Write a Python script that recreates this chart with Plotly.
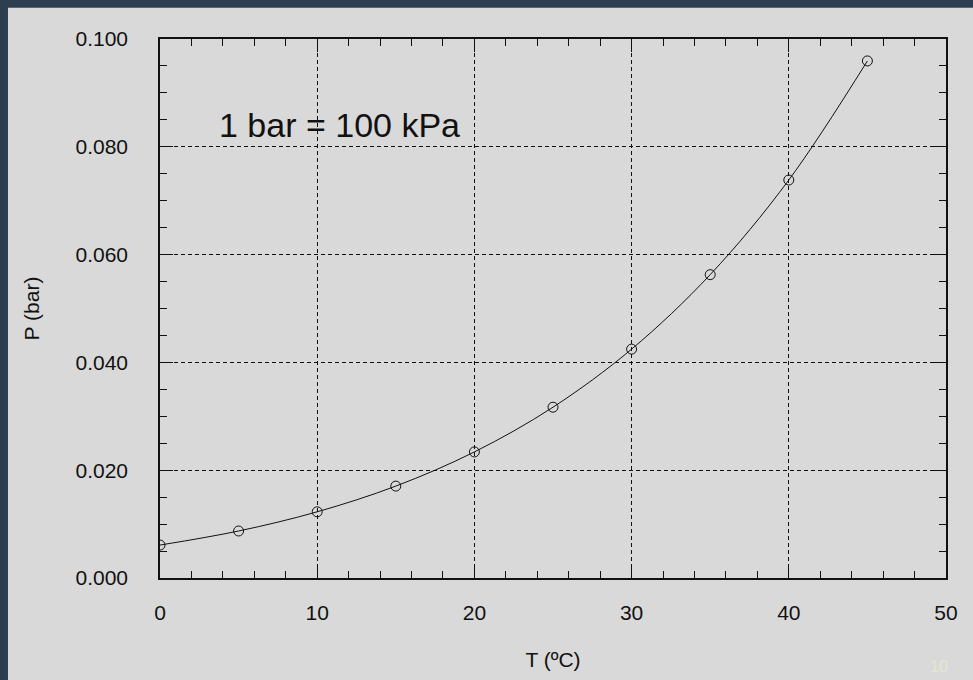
import plotly.graph_objects as go

# Tensione di vapore dell'acqua
T_C = [0, 5, 10, 15, 20, 25, 30, 35, 40, 45]
P_BAR = [0.00611, 0.00872, 0.01228, 0.01705, 0.02339, 0.03169, 0.04246, 0.05628, 0.07384, 0.09593]

X_TICKS = [0, 10, 20, 30, 40, 50]
Y_TICKS = [0.000, 0.020, 0.040, 0.060, 0.080, 0.100]

FONT = "Liberation Sans, Arial, sans-serif"
PANEL = "#d9d9d9"
DARK = "#2c3e4f"

fig = go.Figure()

fig.add_trace(
    go.Scatter(
        x=T_C,
        y=P_BAR,
        mode="lines+markers",
        line=dict(color="#111111", width=1, shape="spline"),
        marker=dict(symbol="circle-open", size=10, color="#111111", line=dict(width=1)),
        showlegend=False,
    )
)

axis_common = dict(
    showline=True,
    linecolor="#111111",
    linewidth=1.5,
    mirror="ticks",
    ticks="inside",
    ticklen=13,
    tickwidth=1,
    tickcolor="#111111",
    showgrid=True,
    gridcolor="#111111",
    gridwidth=1,
    griddash="4px,3px",
    zeroline=False,
    tickfont=dict(family=FONT, size=21, color="#111111"),
    title_font=dict(family=FONT, size=21, color="#111111"),
)

fig.update_xaxes(
    **axis_common,
    range=[0, 50],
    tickvals=X_TICKS,
    ticklabelstandoff=15,
    title_text="T (ºC)",
    title_standoff=29,
    minor=dict(dtick=2, ticks="inside", ticklen=7, tickcolor="#111111", showgrid=False),
)
fig.update_yaxes(
    **axis_common,
    range=[0, 0.1],
    tickvals=Y_TICKS,
    tickformat=".3f",
    ticklabelstandoff=26,
    title_text="P (bar)",
    title_standoff=30,
    minor=dict(dtick=0.005, ticks="inside", ticklen=7, tickcolor="#111111", showgrid=False),
)

# bordi scuri della slide (in alto e a sinistra)
fig.add_shape(type="rect", xref="paper", yref="paper", x0=-0.3, x1=1.1, y0=1.0581, y1=1.2,
              fillcolor=DARK, line_width=0, layer="below")
fig.add_shape(type="rect", xref="paper", yref="paper", x0=-0.3, x1=-0.1934, y0=-0.3, y1=1.2,
              fillcolor=DARK, line_width=0, layer="below")

fig.add_annotation(
    x=3.6, y=0.084, xref="x", yref="y",
    text="1 bar = 100 kPa", showarrow=False,
    xanchor="left", yanchor="middle",
    font=dict(family=FONT, size=34, color="#111111"),
)
fig.add_annotation(
    x=0.991, y=-0.165, xref="paper", yref="paper",
    text="10", showarrow=False,
    xanchor="center", yanchor="middle",
    font=dict(family=FONT, size=16, color="#e6e6cf"),
)

fig.update_layout(
    width=973,
    height=680,
    margin=dict(l=160, r=27, t=39, b=100),
    paper_bgcolor=PANEL,
    plot_bgcolor=PANEL,
    showlegend=False,
)

# niente margine del body, così la figura riempie esattamente la finestra
fig.write_html(
    "out.html",
    config={"displayModeBar": False},
    post_script="document.body.style.margin='0';document.body.style.overflow='hidden';",
)
